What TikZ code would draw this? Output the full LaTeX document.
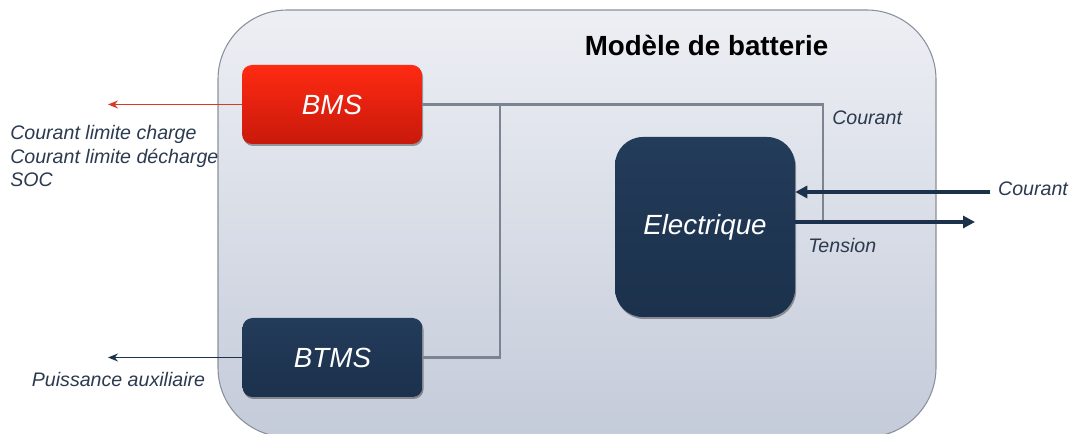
\documentclass[tikz,border=0pt]{standalone}
\usepackage{fontspec}
\setmainfont{Liberation Sans}
\usetikzlibrary{arrows.meta,shadows}
\definecolor{navy}{HTML}{1B314C}
\definecolor{navytop}{HTML}{233C5A}
\definecolor{redtop}{HTML}{FF2A12}
\definecolor{redbot}{HTML}{C8190B}
\definecolor{redline}{HTML}{D63A28}
\definecolor{txt}{HTML}{2B3A4F}
\definecolor{wire}{HTML}{7C8492}
\definecolor{frame}{HTML}{8A909B}
\definecolor{bgtop}{HTML}{EDEFF4}
\definecolor{bgbot}{HTML}{C4CBD9}
\tikzset{
  blockbox/.style={draw=none, rounded corners=7.5pt, minimum width=135pt, minimum height=59.25pt,
    text=white, font=\fontsize{20.8}{24}\selectfont\itshape,
    drop shadow={shadow xshift=0.8pt, shadow yshift=-1.5pt, opacity=0.35, fill=black}},
  navybox/.style={blockbox, top color=navytop, bottom color=navy},
  redbox/.style={blockbox, top color=redtop, bottom color=redbot},
  lbl/.style={text=txt, font=\fontsize{14.7}{17.6}\selectfont\itshape, inner sep=0pt},
  wireline/.style={draw=wire, line width=1.6pt},
  navyarrow/.style={draw=navy, line width=2.4pt, -{Triangle[length=9pt,width=9pt]}},
  thinarrow/.style={line width=1.3pt, -{Stealth[length=7.5pt,width=6pt]}},
}
\begin{document}
\begin{tikzpicture}[x=0.75pt,y=-0.75pt]
\useasboundingbox (0,0) rectangle (1072,434);
\begin{scope}
  \clip (0,0) rectangle (1072,434);
  \draw[draw=frame, line width=0.8pt, rounded corners=52pt, top color=bgtop, bottom color=bgbot]
    (218,10) rectangle (936,437);
\end{scope}
\node[font=\fontsize{20.8}{24}\selectfont\bfseries, text=black, inner sep=0pt] (title) at (706.5,45) {Modèle de batterie};

\node[redbox] (BMS) at (332,104.5) {BMS};
\node[navybox] (BTMS) at (332.5,357.5) {BTMS};
\node[navybox, rounded corners=21pt, minimum width=135pt, minimum height=135pt] (Elec) at (705,227) {Electrique};

\coordinate (jl) at (500,104.5);
\coordinate (jr) at (823,222);
\coordinate (cin) at (990,192);
\coordinate (tout) at (975,222);
\coordinate (bmsout) at (108,104.5);
\coordinate (btmsout) at (108,357.5);

\draw[wireline] (BMS.east) -| (jr);
\draw[wireline] (jl) |- (BTMS.east);

\draw[navyarrow] (cin) -- (cin -| Elec.east);
\draw[navyarrow] (Elec.east |- tout) -- (tout);

\draw[thinarrow, draw=redline, color=redline] (BMS.west) -- (bmsout);
\draw[thinarrow, draw=navy, color=navy] (BTMS.west) -- (btmsout);

\node[lbl, anchor=west, align=left] (bmslbl) at (10,156) {Courant limite charge\\Courant limite décharge\\SOC};
\node[lbl] (btmslbl) at (118.5,379) {Puissance auxiliaire};
\node[lbl, anchor=west] (curtop) at (832,118) {Courant};
\node[lbl] (curin) at (1033,189) {Courant};
\node[lbl, anchor=west] (tens) at (808,245) {Tension};
\end{tikzpicture}
\end{document}
